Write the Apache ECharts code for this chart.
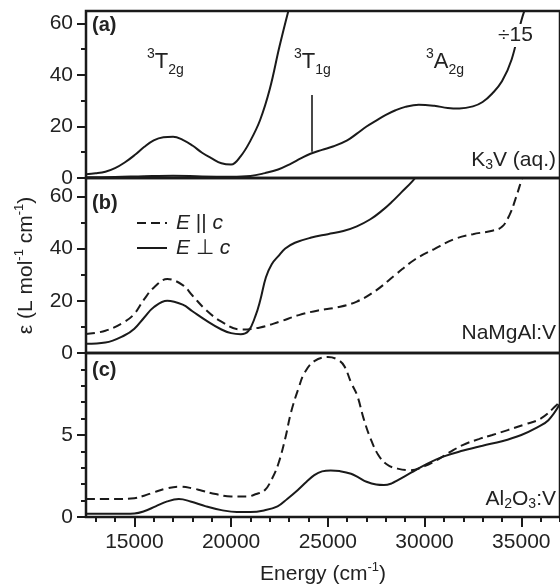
<!DOCTYPE html>
<html>
<head>
<meta charset="utf-8">
<title>Absorption spectra of V3+</title>
<script src="https://cdn.jsdelivr.net/npm/echarts@6/dist/echarts.min.js"></script>
<style>
  html, body { margin: 0; padding: 0; background: #fff; }
  #chart { width: 560px; height: 588px; }
</style>
</head>
<body>
<div id="chart"></div>
<script>
// Energy axis ticks (cm^-1)
const energyTicks = [15000, 20000, 25000, 30000, 35000];
const energyMinorTicks = [13000, 14000, 16000, 17000, 18000, 19000, 21000, 22000, 23000, 24000,
  26000, 27000, 28000, 29000, 31000, 32000, 33000, 34000, 36000, 37000];

// Molar absorptivity ticks per panel
const epsTicksAB = [0, 20, 40, 60];
const epsMinorAB = [10, 30, 50];
const epsTicksC = [0, 5];
const epsMinorC = [1, 2, 3, 4, 6, 7, 8, 9];

// (a) K3V in aqueous solution
const k3vEnergy = [12500, 13000, 13500, 14000, 14500, 15000, 15500, 16000, 16500, 17000, 17500, 18000,
  18500, 19000, 19500, 20000, 20500, 21000, 21500, 22000, 22500, 23000];
const k3vEps = [1.5, 1.8, 2.4, 3.8, 6.0, 8.8, 12.0, 14.6, 15.8, 16.0, 14.8, 12.6,
  9.8, 7.6, 5.7, 5.2, 8.5, 14.5, 22.5, 34.5, 51.0, 66.0];

// (a) same spectrum divided by 15
const k3vScaledEnergy = [12500, 14000, 15500, 17000, 18500, 20000, 21000, 21750, 22430, 23100, 23600,
  24100, 24700, 25300, 26000, 26500, 27000, 27500, 28000, 28500, 29000, 29700, 30500, 31200, 31800,
  32500, 33000, 33500, 34000, 34500, 35000, 35300];
const k3vScaledEps = [0.3, 0.4, 0.7, 0.9, 0.6, 0.5, 0.8, 1.9, 3.3, 5.6, 7.6,
  9.4, 10.9, 12.3, 14.6, 17.2, 20.0, 22.3, 24.5, 26.3, 27.6, 28.4, 28.0, 27.2, 27.0,
  27.8, 29.5, 32.8, 37.5, 46.0, 61.0, 68.0];

// 3T1g position marker on the divided curve
const t1gMarker = { energy: 24170, from: 10.2, to: 32.2 };

// (b) NaMgAl:V, E parallel c
const nmaParEnergy = [12500, 13500, 14500, 15000, 15500, 16000, 16700, 17500, 18000, 18700, 19500, 20500,
  21500, 22500, 23500, 24500, 25500, 26500, 27500, 28500, 29500, 30500, 31500, 32500, 33500, 34000,
  34400, 34700, 35000, 35200];
const nmaParEps = [7.3, 8.5, 12.0, 15.0, 20.5, 25.0, 28.3, 26.0, 22.0, 16.5, 12.0, 9.0,
  9.8, 12.0, 14.5, 16.3, 17.5, 19.7, 24.0, 30.0, 35.8, 39.8, 43.5, 45.5, 46.8, 48.3,
  53.0, 59.0, 66.0, 71.0];

// (b) NaMgAl:V, E perpendicular c
const nmaPerpEnergy = [12500, 13500, 14500, 15000, 15500, 16000, 16700, 17500, 18000, 18700, 19500, 20000,
  20500, 20900, 21250, 21500, 21800, 22100, 22430, 22800, 23300, 24100, 25000, 25800, 26500, 27200,
  27800, 28300, 28800, 29400, 29700];
const nmaPerpEps = [3.5, 4.0, 6.8, 9.3, 13.5, 17.5, 20.0, 18.5, 16.0, 12.5, 9.0, 7.6,
  7.2, 8.5, 14.0, 20.0, 29.0, 34.0, 37.0, 40.0, 42.2, 44.1, 45.5, 46.7, 48.5, 51.2,
  54.5, 57.8, 61.5, 66.0, 69.0];

// (c) Al2O3:V, E parallel c
const aloParEnergy = [12500, 14000, 15000, 15500, 16000, 16700, 17300, 18000, 18500, 19200, 20000, 20800,
  21300, 21750, 22100, 22430, 22800, 23100, 23500, 23800, 24300, 25000, 25500, 25850, 26200, 26520,
  26850, 27200, 27600, 28060, 28600, 29250, 30000, 30600, 31300, 32000, 32800, 33500, 34300, 35200,
  36000, 36800, 37000];
const aloParEps = [1.1, 1.1, 1.15, 1.3, 1.5, 1.75, 1.85, 1.75, 1.6, 1.4, 1.25, 1.25,
  1.4, 1.65, 2.3, 3.2, 4.8, 6.4, 7.9, 8.8, 9.5, 9.75, 9.6, 9.2, 8.2, 7.4,
  6.0, 4.8, 3.8, 3.2, 2.95, 2.85, 3.1, 3.45, 3.95, 4.4, 4.75, 5.0, 5.3, 5.65,
  6.0, 6.8, 7.1];

// (c) Al2O3:V, E perpendicular c
const aloPerpEnergy = [12500, 14000, 15000, 15500, 16100, 16700, 17300, 17900, 18700, 19500, 20300, 21000,
  21700, 22400, 22900, 23450, 23900, 24300, 24700, 25150, 25600, 26200, 26600, 27000, 27500, 27900,
  28300, 28600, 29300, 30100, 31000, 32000, 33000, 34000, 35000, 35800, 36400, 37000];
const aloPerpEps = [0.2, 0.2, 0.22, 0.35, 0.65, 0.95, 1.09, 0.95, 0.65, 0.42, 0.3, 0.3,
  0.4, 0.65, 1.1, 1.65, 2.15, 2.55, 2.78, 2.84, 2.8, 2.64, 2.4, 2.15, 1.98, 1.95,
  2.05, 2.24, 2.7, 3.23, 3.7, 4.05, 4.35, 4.62, 5.0, 5.45, 5.9, 6.9];

const FONT = '"Liberation Sans", Arial, Helvetica, sans-serif';
const INK = '#1a1a1a';
const TEXT = '#222';
const FS = 21;

const pairs = (xs, ys) => xs.map((x, i) => [x, ys[i]]);

const gridBase = { left: 86, right: -6, show: true, borderColor: INK, borderWidth: 2.5,
  backgroundColor: 'transparent' };
const grids = [
  Object.assign({ top: 11, height: 167 }, gridBase),
  Object.assign({ top: 178, height: 175 }, gridBase),
  Object.assign({ top: 353, height: 168 }, gridBase)
];

const xBase = { type: 'value', min: 12500, max: 37000, splitLine: { show: false },
  axisLine: { show: false } };

const xAxes = [
  Object.assign({ gridIndex: 0, show: false }, xBase),
  Object.assign({ gridIndex: 1, show: false }, xBase),
  Object.assign({
    gridIndex: 2, position: 'bottom', offset: 0,
    axisTick: { show: true, inside: false, length: 10, customValues: energyTicks,
      lineStyle: { color: INK, width: 2 } },
    axisLabel: { show: true, customValues: energyTicks, margin: 15, color: TEXT,
      fontFamily: FONT, fontSize: FS, formatter: v => String(v) },
    name: 'Energy (cm{sup|-1})',
    nameLocation: 'middle', nameGap: 44,
    nameTextStyle: { color: TEXT, fontFamily: FONT, fontSize: FS, lineHeight: 26,
      verticalAlign: 'top',
      rich: { sup: { fontSize: 13, lineHeight: 13, verticalAlign: 'top', fontFamily: FONT, color: TEXT } } }
  }, xBase),
  Object.assign({
    gridIndex: 2, position: 'bottom', offset: 0,
    axisTick: { show: true, inside: false, length: 5, customValues: energyMinorTicks,
      lineStyle: { color: INK, width: 2 } },
    axisLabel: { show: false }
  }, xBase)
];

function yPair(gridIndex, max, major, minor, extra) {
  const base = { type: 'value', gridIndex: gridIndex, min: 0, max: max, position: 'left', offset: 0,
    splitLine: { show: false }, axisLine: { show: false } };
  return [
    Object.assign({}, base, {
      axisTick: { show: true, inside: false, length: 9, customValues: major,
        lineStyle: { color: INK, width: 2 } },
      axisLabel: { show: true, customValues: major, margin: 13, color: TEXT,
        fontFamily: FONT, fontSize: FS, formatter: v => String(v) }
    }, extra || {}),
    Object.assign({}, base, {
      axisTick: { show: true, inside: false, length: 5, customValues: minor,
        lineStyle: { color: INK, width: 2 } },
      axisLabel: { show: false }
    })
  ];
}

const yAxes = [].concat(
  yPair(0, 64.8, epsTicksAB, epsMinorAB),
  yPair(1, 67, epsTicksAB, epsMinorAB, {
    name: '\u03b5 (L mol{sup|-1} cm{sup|-1})',
    nameLocation: 'middle', nameRotate: 90, nameGap: 45,
    nameTextStyle: { color: TEXT, fontFamily: FONT, fontSize: FS, lineHeight: 26,
      rich: { sup: { fontSize: 13, lineHeight: 13, verticalAlign: 'top', fontFamily: FONT, color: TEXT } } }
  }),
  yPair(2, 10, epsTicksC, epsMinorC)
);

const solid = { color: INK, width: 2, type: 'solid' };
const dashed = { color: INK, width: 2, type: [9, 5] };

function line(name, xi, yi, xs, ys, style, extra) {
  return Object.assign({
    name: name, type: 'line', xAxisIndex: xi, yAxisIndex: yi,
    data: pairs(xs, ys), showSymbol: false, symbol: 'none', smooth: 0.4,
    lineStyle: style, itemStyle: { color: INK }, clip: true, animation: false, z: 3
  }, extra || {});
}

const PAR = 'E || c';
const PERP = 'E \u22a5 c';

const series = [
  line('K3V', 0, 0, k3vEnergy, k3vEps, solid),
  line('K3V /15', 0, 0, k3vScaledEnergy, k3vScaledEps, solid, {
    markLine: {
      silent: true, symbol: 'none', animation: false,
      label: { show: false },
      lineStyle: { color: INK, width: 1.6, type: 'solid' },
      data: [[{ coord: [t1gMarker.energy, t1gMarker.from] }, { coord: [t1gMarker.energy, t1gMarker.to] }]]
    }
  }),
  line(PAR, 1, 2, nmaParEnergy, nmaParEps, dashed),
  line(PERP, 1, 2, nmaPerpEnergy, nmaPerpEps, solid),
  line('Al2O3 par', 2, 4, aloParEnergy, aloParEps, dashed),
  line('Al2O3 perp', 2, 4, aloPerpEnergy, aloPerpEps, solid)
];

const richT = {
  m: { fontSize: 22, lineHeight: 30, fontFamily: FONT, color: TEXT },
  sup: { fontSize: 14, lineHeight: 14, verticalAlign: 'top', fontFamily: FONT, color: TEXT },
  sub: { fontSize: 14, lineHeight: 14, verticalAlign: 'bottom', fontFamily: FONT, color: TEXT }
};
const richLbl = {
  m: { fontSize: FS, lineHeight: 24, fontFamily: FONT, color: TEXT },
  sub: { fontSize: 14, lineHeight: 14, verticalAlign: 'bottom', fontFamily: FONT, color: TEXT }
};

function label(opts, text, rich, more) {
  return Object.assign({ type: 'text', z: 100, silent: true,
    style: Object.assign({ text: text, rich: rich, fill: TEXT, font: FS + 'px ' + FONT }, more || {}) }, opts);
}

const graphic = [
  label({ left: 92, top: 15 }, '(a)', null, { font: 'bold 20px ' + FONT }),
  label({ left: 92, top: 193 }, '(b)', null, { font: 'bold 20px ' + FONT }),
  label({ left: 92, top: 360 }, '(c)', null, { font: 'bold 20px ' + FONT }),
  label({ left: 147, top: 47 }, '{sup|3}{m|T}{sub|2g}', richT),
  label({ left: 294, top: 47 }, '{sup|3}{m|T}{sub|1g}', richT),
  label({ left: 426, top: 47 }, '{sup|3}{m|A}{sub|2g}', richT),
  label({ left: 497, top: 24 }, '\u00f715', null, { backgroundColor: '#fff', padding: [1, 1] }),
  label({ right: 4, top: 150 }, '{m|K}{sub|3}{m|V (aq.)}', richLbl),
  label({ right: 4, top: 323 }, 'NaMgAl:V', null),
  label({ right: 4, top: 489 }, '{m|Al}{sub|2}{m|O}{sub|3}{m|:V}', richLbl)
];

const chart = echarts.init(document.getElementById('chart'), null, { renderer: 'canvas' });
chart.setOption({
  animation: false,
  backgroundColor: '#fff',
  textStyle: { fontFamily: FONT },
  grid: grids,
  xAxis: xAxes,
  yAxis: yAxes,
  legend: {
    data: [PAR, PERP],
    orient: 'vertical', left: 131, top: 207,
    itemWidth: 30, itemHeight: 14, itemGap: 3,
    selectedMode: false,
    itemStyle: { opacity: 0, borderWidth: 0 },
    formatter: n => n === PAR ? '{i|E} || {i|c}' : '{i|E} \u22a5 {i|c}',
    textStyle: { color: TEXT, fontFamily: FONT, fontSize: FS, lineHeight: 22, padding: [0, 0, 0, 4],
      rich: { i: { fontStyle: 'italic', fontFamily: FONT, fontSize: FS, color: TEXT } } }
  },
  series: series,
  graphic: graphic
});
</script>
</body>
</html>
